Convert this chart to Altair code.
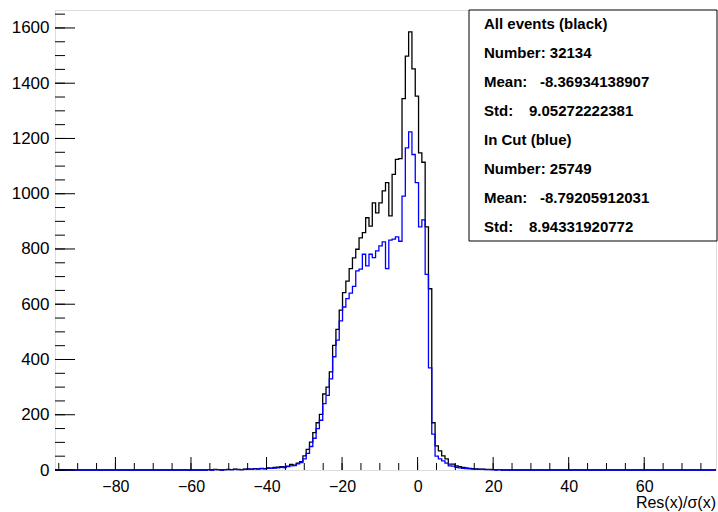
import altair as alt
import pandas as pd

# ---- histogram binning (200 bins from -96 to 79) ----
X_MIN = -96.0
X_MAX = 79.0
N_BINS = 200
FIRST_BIN = 46  # index of the first bin listed in the arrays below

# counts per bin, bins FIRST_BIN .. FIRST_BIN+len-1 (all other bins are empty)
black_counts = [
    1, 0, 2, 1, 0, 1, 2, 1, 3, 2,
    1, 3, 4, 3, 5, 4, 6, 5, 8, 7,
    9, 10, 12, 11, 14, 20, 18, 25, 30, 51,
    75, 101, 135, 171, 201, 275, 300, 355, 451, 509,
    579, 642, 684, 729, 768, 799, 840, 859, 913, 883,
    967, 931, 967, 1010, 1040, 920, 1070, 1124, 1127, 1344,
    1498, 1586, 1452, 1353, 1148, 1114, 880, 656, 171, 87,
    69, 51, 40, 21, 21, 15, 12, 9, 8, 6,
    5, 4, 3, 3, 2, 2, 1, 1, 1,
]
blue_counts = [
    1, 0, 1, 1, 0, 1, 1, 1, 2, 1,
    1, 2, 3, 2, 4, 3, 5, 4, 6, 6,
    7, 8, 10, 9, 12, 15, 16, 22, 27, 40,
    60, 85, 115, 150, 180, 240, 270, 330, 410, 470,
    540, 590, 620, 640, 665, 721, 727, 781, 739, 781,
    769, 793, 811, 826, 729, 832, 836, 844, 828, 991,
    1166, 1224, 1142, 1040, 880, 905, 708, 370, 130, 50,
    40, 33, 25, 15, 14, 10, 8, 6, 5, 4,
    3, 3, 2, 2, 1, 1, 1, 0, 1,
]

x_major_ticks = [-80, -60, -40, -20, 0, 20, 40, 60]
x_minor_ticks = list(range(-95, 80, 5))
y_major_ticks = [0, 200, 400, 600, 800, 1000, 1200, 1400, 1600]
y_minor_ticks = list(range(0, 1651, 50))

stat_labels = ["All events (black)", "Number: 32134", "Mean:", "Std:",
               "In Cut (blue)", "Number: 25749", "Mean:", "Std:"]
stat_values = ["", "", "-8.36934138907", "9.05272222381",
               "", "", "-8.79205912031", "8.94331920772"]
x_title = "Res(x)/σ(x)"

# ---- build tables ----
bin_w = (X_MAX - X_MIN) / N_BINS


def step_table(counts):
    full = [0] * N_BINS
    for i, c in enumerate(counts):
        full[FIRST_BIN + i] = c
    edges = [X_MIN + i * bin_w for i in range(N_BINS + 1)]
    ys = full + [full[-1]]
    return pd.DataFrame({"x": edges, "n": ys})


df_black = step_table(black_counts)
df_blue = step_table(blue_counts)

W, H = 661, 460
YMAX = 1665
FONT = "Liberation Sans"

xscale = alt.Scale(domain=[X_MIN, X_MAX], nice=False, zero=False)
yscale = alt.Scale(domain=[0, YMAX], nice=False)

black = alt.Chart(df_black).mark_line(
    interpolate="step-after", color="#000000", strokeWidth=1.3
).encode(
    x=alt.X("x:Q", scale=xscale,
            axis=alt.Axis(values=x_major_ticks, tickSize=0, domain=False, grid=False,
                          labelPadding=8, labelFontSize=16, labelFont=FONT,
                          labelColor="black", title=None)),
    y=alt.Y("n:Q", scale=yscale,
            axis=alt.Axis(values=y_major_ticks, format="d", tickSize=0, domain=False,
                          grid=False, labelPadding=6, labelFontSize=17, labelFont=FONT,
                          labelColor="black", title=None)),
)
blue = alt.Chart(df_blue).mark_line(
    interpolate="step-after", color="#0000ff", strokeWidth=1.3
).encode(x=alt.X("x:Q", scale=xscale), y=alt.Y("n:Q", scale=yscale))

# inward ticks (ROOT style)
xmaj = alt.Chart(pd.DataFrame({"v": x_major_ticks})).mark_rule(color="black", strokeWidth=1).encode(
    x=alt.X("v:Q", scale=xscale), y=alt.value(H), y2=alt.value(H - 13))
xmin = alt.Chart(pd.DataFrame({"v": x_minor_ticks})).mark_rule(color="black", strokeWidth=1).encode(
    x=alt.X("v:Q", scale=xscale), y=alt.value(H), y2=alt.value(H - 7))
ymaj = alt.Chart(pd.DataFrame({"v": y_major_ticks})).mark_rule(color="black", strokeWidth=1).encode(
    y=alt.Y("v:Q", scale=yscale), x=alt.value(0), x2=alt.value(20))
ymin = alt.Chart(pd.DataFrame({"v": y_minor_ticks})).mark_rule(color="black", strokeWidth=1).encode(
    y=alt.Y("v:Q", scale=yscale), x=alt.value(0), x2=alt.value(10))

# statistics box
box = alt.Chart(pd.DataFrame({"a": [0]})).mark_rect(
    fill="white", stroke="black", strokeWidth=1
).encode(x=alt.value(414), x2=alt.value(W + 1), y=alt.value(0), y2=alt.value(231))

stats_df = pd.DataFrame({"row": list(range(len(stat_labels))),
                         "label": stat_labels, "value": stat_values})
labels = alt.Chart(stats_df).mark_text(
    align="left", baseline="middle", font=FONT, fontSize=15, fontWeight="bold", color="black"
).transform_calculate(ypix="14 + datum.row * 29").encode(
    x=alt.value(429), y=alt.Y("ypix:Q", scale=None), text="label:N")
values = alt.Chart(stats_df).mark_text(
    align="left", baseline="middle", font=FONT, fontSize=15, fontWeight="bold", color="black"
).transform_calculate(
    ypix="14 + datum.row * 29",
    xpix="indexof(datum.value, '-') == 0 ? 485 : 474",
).encode(x=alt.X("xpix:Q", scale=None), y=alt.Y("ypix:Q", scale=None), text="value:N")

title = alt.Chart(pd.DataFrame({"t": [x_title]})).mark_text(
    align="right", baseline="middle", font=FONT, fontSize=16, color="black"
).encode(x=alt.value(W), y=alt.value(H + 33), text="t:N")

chart = alt.layer(
    black, blue, xmaj, xmin, ymaj, ymin, box, labels, values, title
).properties(
    width=W, height=H,
    padding={"left": 55, "top": 10, "right": 2, "bottom": 42},
    autosize=alt.AutoSizeParams(type="none"),
).configure_view(stroke="black", strokeWidth=1).configure(background="white")

chart.save("out.html", embed_options={"renderer": "svg", "actions": False})
